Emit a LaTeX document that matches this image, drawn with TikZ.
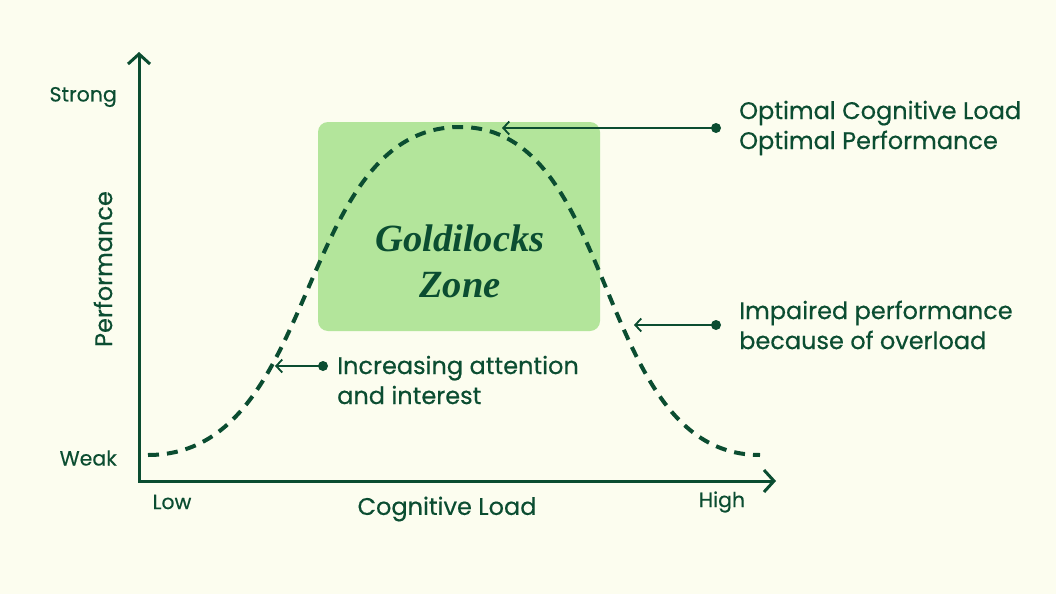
\documentclass[tikz,border=0pt]{standalone}
\usepackage{fontspec}
\setmainfont{Poppins}[UprightFeatures={FakeBold=0.4}]
\newfontfamily\zonefont{Liberation Serif}
\usetikzlibrary{arrows.meta}
\definecolor{cream}{HTML}{FCFDEF}
\definecolor{forest}{HTML}{0B4D31}
\definecolor{leaf}{HTML}{B3E59B}
\begin{document}
\begin{tikzpicture}[x=1pt, y=-1pt, font=\fontsize{24}{30}\selectfont, text=forest,
  axis/.style={draw=forest, line width=3pt, miter limit=10,
    {Straight Barb[length=10pt, width=22pt]}-{Straight Barb[length=10pt, width=22pt]}},
  bell/.style={draw=forest, line width=4pt, dash pattern=on 11pt off 8pt},
  pointer/.style={draw=forest, line width=1.8pt, -{Straight Barb[length=6pt, width=13pt]}},
  dot/.style={circle, fill=forest, inner sep=0pt, minimum size=10pt},
  zone/.style={fill=leaf, rounded corners=10pt, minimum width=282pt, minimum height=209pt},
  note/.style={anchor=west, align=left, inner sep=0pt},
  tick/.style={font=\fontsize{20.5}{24}\selectfont, inner sep=0pt}]
  \fill[cream] (0,0) rectangle (1056,594);
  \node[zone] (box) at (459,226.5) {};
  \node[font=\zonefont\fontsize{38.5}{46}\selectfont\bfseries\itshape, align=center] (gz) at (460,261) {Goldilocks\\Zone};
  \coordinate (ytop) at (139,52);
  \coordinate (o) at (139,481);
  \coordinate (xend) at (776,481);
  \draw[axis] (ytop) -- (o) -- (xend);
  \coordinate (lo) at (148,455);
  \coordinate (peak) at (460,127);
  \coordinate (hi) at (760,455);
  \draw[bell] (lo) .. controls (322,455) and (294,127) .. (peak)
    .. controls (620,127) and (593,455) .. (hi);
  \node[dot] (d1) at (716,128) {};
  \node[dot] (d2) at (716,325) {};
  \node[dot] (d3) at (323,366) {};
  \coordinate (p1) at (502,128);
  \coordinate (p2) at (634,325);
  \coordinate (p3) at (275,366);
  \foreach \i in {1,2,3} \draw[pointer] (d\i.center) -- (p\i);
  \node[note] (n1) at (739,128) {Optimal Cognitive Load\\Optimal Performance};
  \node[note] (n2) at (739,325) {Impaired performance\\because of overload};
  \node[note] (n3) at (337,380) {Increasing attention\\and interest};
  \node[tick, anchor=east] (strong) at (117,97) {Strong};
  \node[tick, anchor=east] (weak) at (117,458) {Weak};
  \node[tick] (low) at (172,502) {Low};
  \node[tick] (high) at (722,502) {High};
  \node (xlab) at (447,509) {Cognitive Load};
  \node[rotate=90] (ylab) at (103,269) {Performance};
\end{tikzpicture}
\end{document}
